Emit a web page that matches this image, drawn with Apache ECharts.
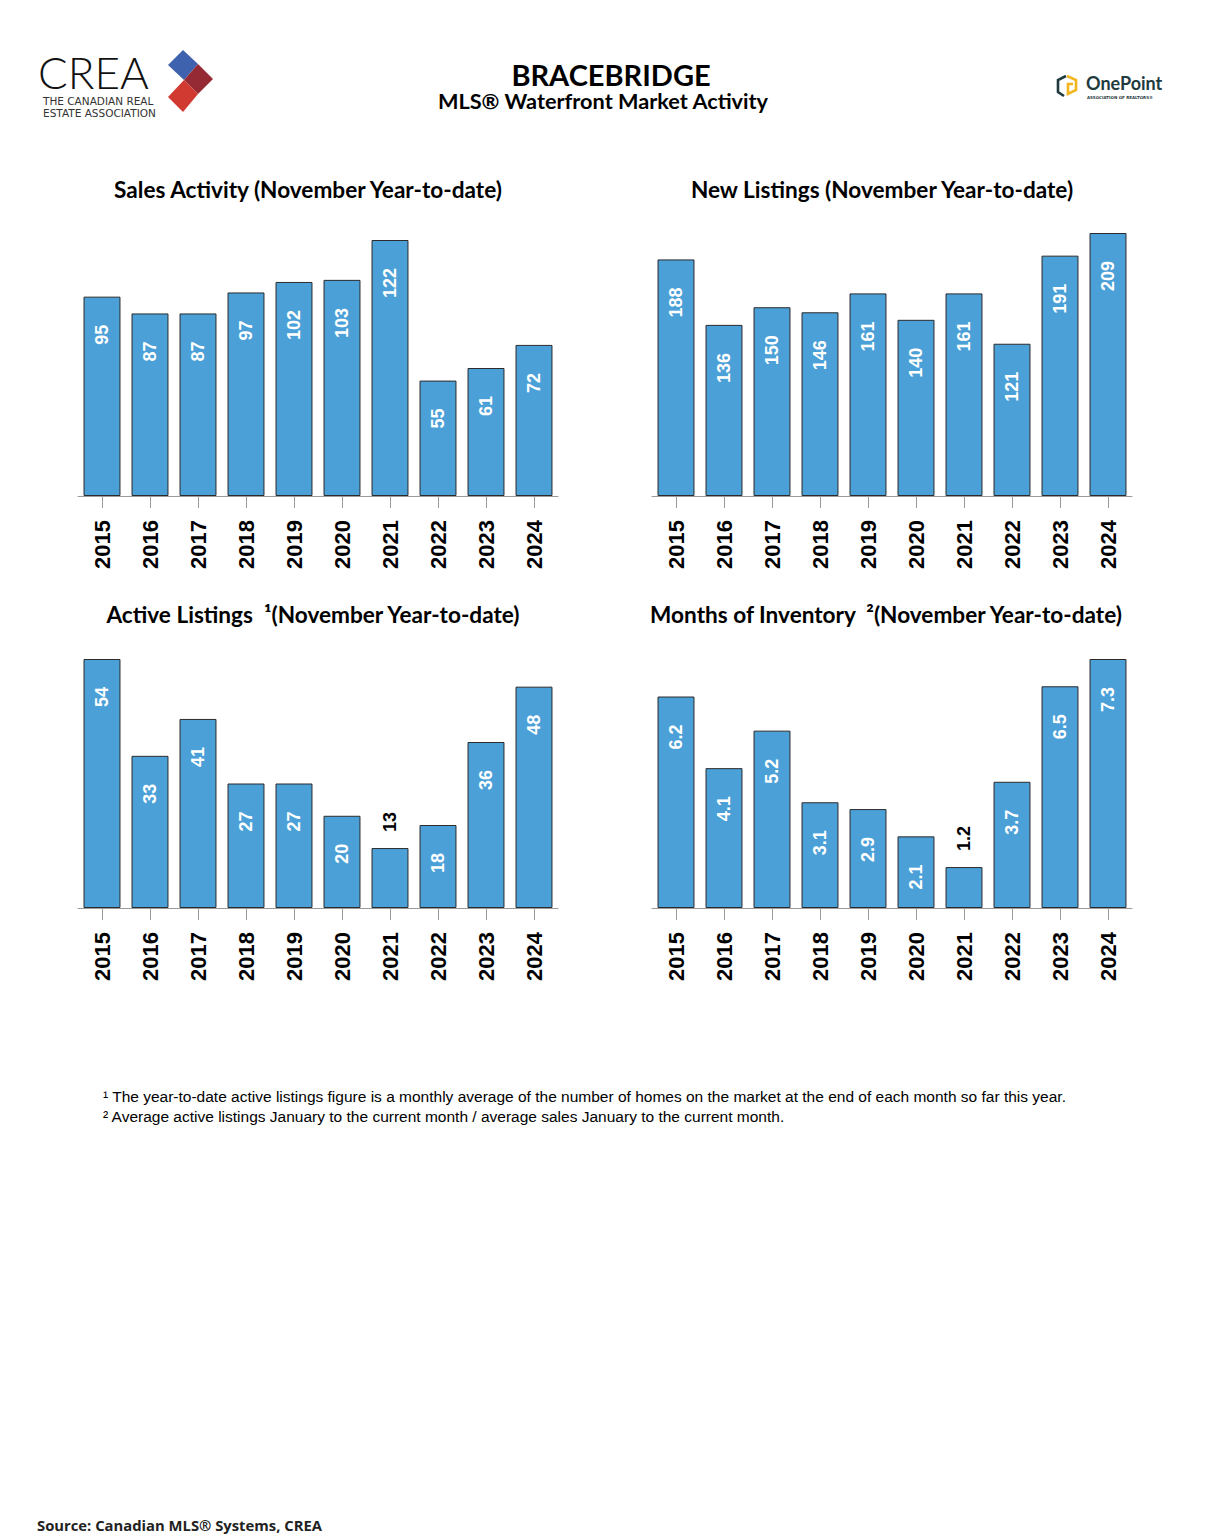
<!DOCTYPE html>
<html>
<head>
<meta charset="utf-8">
<script src="https://cdn.jsdelivr.net/npm/echarts@6/dist/echarts.min.js"></script>
<style>
  html, body { margin: 0; padding: 0; background: #ffffff; }
  #chart { width: 1213px; height: 1536px; }
</style>
</head>
<body>
<div id="chart"></div>
<script>
// ---- data ----
const years = ['2015', '2016', '2017', '2018', '2019', '2020', '2021', '2022', '2023', '2024'];
const salesActivity = [95, 87, 87, 97, 102, 103, 122, 55, 61, 72];
const newListings = [188, 136, 150, 146, 161, 140, 161, 121, 191, 209];
const activeListings = [54, 33, 41, 27, 27, 20, 13, 18, 36, 48];
const monthsOfInventory = [6.2, 4.1, 5.2, 3.1, 2.9, 2.1, 1.2, 3.7, 6.5, 7.3];

const chartTitles = [
  'Sales Activity (November Year-to-date)',
  'New Listings (November Year-to-date)',
  'Active Listings  \u00B9(November Year-to-date)',
  'Months of Inventory  \u00B2(November Year-to-date)'
];
const footnotes = [
  '\u00B9 The year-to-date active listings figure is a monthly average of the number of homes on the market at the end of each month so far this year.',
  '\u00B2 Average active listings January to the current month / average sales January to the current month.'
];

// ---- layout / style ----
const seriesList = [salesActivity, newListings, activeListings, monthsOfInventory];
const grids = [
  { left: 78, top: 240, width: 480, height: 256 },
  { left: 652, top: 233, width: 480, height: 263 },
  { left: 78, top: 659, width: 480, height: 249 },
  { left: 652, top: 659, width: 480, height: 249 }
];
const titlePos = [[308, 189], [882, 189], [313, 614], [886, 614]];
const BAR = '#4BA0D8';
const SANS = "'Liberation Sans', Arial, sans-serif";
const TITLEFONT = "Lato, 'Open Sans', sans-serif";

const chart = echarts.init(document.getElementById('chart'), null, { renderer: 'svg' });

const xAxes = grids.map((g, i) => ({
  type: 'category', gridIndex: i, data: years,
  axisLine: { show: true, lineStyle: { color: '#9a9a9a', width: 1 } },
  axisTick: { show: true, alignWithLabel: true, length: 12, lineStyle: { color: '#9a9a9a' } },
  axisLabel: { rotate: 90, margin: 24, color: '#000', fontWeight: 'bold', fontSize: 22, fontFamily: SANS }
}));
const yAxes = grids.map((g, i) => ({
  type: 'value', gridIndex: i, min: 0, max: 'dataMax', show: false, splitLine: { show: false }
}));

const series = seriesList.map((vals, i) => {
  const mx = Math.max.apply(null, vals);
  return {
    type: 'bar', xAxisIndex: i, yAxisIndex: i, barWidth: '77%',
    itemStyle: { color: BAR, borderColor: '#2b2b2b', borderWidth: 1 },
    label: {
      show: true, position: 'insideTop', distance: 28, rotate: 90,
      align: 'right', verticalAlign: 'middle',
      color: '#fff', fontWeight: 'bold', fontSize: 18, fontFamily: SANS
    },
    data: vals.map(v => (v / mx < 0.28)
      ? { value: v, label: { position: 'top', distance: 16, align: 'left', verticalAlign: 'middle', color: '#000' } }
      : v)
  };
});

const graphics = [];
// Header
graphics.push({ type: 'text', x: 611, y: 74, style: { text: 'BRACEBRIDGE', fill: '#000',
  font: "bold 29px " + TITLEFONT, textAlign: 'center', textVerticalAlign: 'middle', align: 'center', verticalAlign: 'middle' } });
graphics.push({ type: 'text', x: 603, y: 101, style: { text: 'MLS\u00AE Waterfront Market Activity', fill: '#000',
  font: "bold 21.7px " + TITLEFONT, textAlign: 'center', textVerticalAlign: 'middle', align: 'center', verticalAlign: 'middle' } });
// chart titles
chartTitles.forEach((t, i) => {
  graphics.push({ type: 'text', x: titlePos[i][0], y: titlePos[i][1], style: { text: t, fill: '#000',
    font: "bold 22.6px " + TITLEFONT, textAlign: 'center', textVerticalAlign: 'middle', align: 'center', verticalAlign: 'middle' } });
});
// footnotes
footnotes.forEach((t, i) => {
  graphics.push({ type: 'text', x: 103, y: 1096 + i * 20, style: { text: t, fill: '#000',
    font: "15.5px " + SANS, textAlign: 'left', textVerticalAlign: 'middle', align: 'left', verticalAlign: 'middle' } });
});
// source
graphics.push({ type: 'text', x: 37, y: 1525, style: { text: 'Source: Canadian MLS\u00AE Systems, CREA', fill: '#222',
  font: "bold 14.8px 'Open Sans', sans-serif", textAlign: 'left', textVerticalAlign: 'middle', align: 'left', verticalAlign: 'middle' } });

// CREA logo
graphics.push({ type: 'text', x: 38, y: 72, style: { text: 'CREA', fill: '#111',
  font: "300 44px Lato, 'Open Sans', sans-serif", textAlign: 'left', textVerticalAlign: 'middle', align: 'left', verticalAlign: 'middle' } });
graphics.push({ type: 'text', x: 43, y: 101, style: { text: 'THE CANADIAN REAL', fill: '#333',
  font: "10.5px 'DejaVu Sans', sans-serif", textAlign: 'left', textVerticalAlign: 'middle', align: 'left', verticalAlign: 'middle' } });
graphics.push({ type: 'text', x: 43, y: 113, style: { text: 'ESTATE ASSOCIATION', fill: '#333',
  font: "10.5px 'DejaVu Sans', sans-serif", textAlign: 'left', textVerticalAlign: 'middle', align: 'left', verticalAlign: 'middle' } });
graphics.push({ type: 'polygon', shape: { points: [[183, 50], [198, 64], [184, 80], [168, 65]] }, style: { fill: '#3F62AE' } });
graphics.push({ type: 'polygon', shape: { points: [[198, 64], [213, 79], [198, 94], [184, 80]] }, style: { fill: '#962A34' } });
graphics.push({ type: 'polygon', shape: { points: [[184, 80], [198, 94], [183, 112], [168, 97]] }, style: { fill: '#D03A30' } });

// OnePoint logo
graphics.push({ type: 'polyline', shape: { points: [[1066, 76], [1058, 80], [1058, 92], [1064, 96]] },
  style: { stroke: '#1F3B40', lineWidth: 2.6, fill: null } });
graphics.push({ type: 'polyline', shape: { points: [[1067, 76], [1076, 80], [1076, 90], [1068, 94], [1068, 84], [1073, 84]] },
  style: { stroke: '#F2B51C', lineWidth: 2.6, fill: null } });
graphics.push({ type: 'text', x: 1086, y: 83, style: { text: 'OnePoint', fill: '#1F3B40',
  font: "bold 18px Lato, 'Open Sans', sans-serif", textAlign: 'left', textVerticalAlign: 'middle', align: 'left', verticalAlign: 'middle' } });
graphics.push({ type: 'text', x: 1087, y: 97, style: { text: 'ASSOCIATION OF REALTORS\u00AE', fill: '#1F3B40',
  font: "bold 4px 'DejaVu Sans', sans-serif", textAlign: 'left', textVerticalAlign: 'middle', align: 'left', verticalAlign: 'middle' } });

chart.setOption({
  animation: false,
  backgroundColor: '#ffffff',
  grid: grids.map(g => Object.assign({ containLabel: false }, g)),
  xAxis: xAxes,
  yAxis: yAxes,
  series: series,
  graphic: graphics
});
</script>
</body>
</html>
